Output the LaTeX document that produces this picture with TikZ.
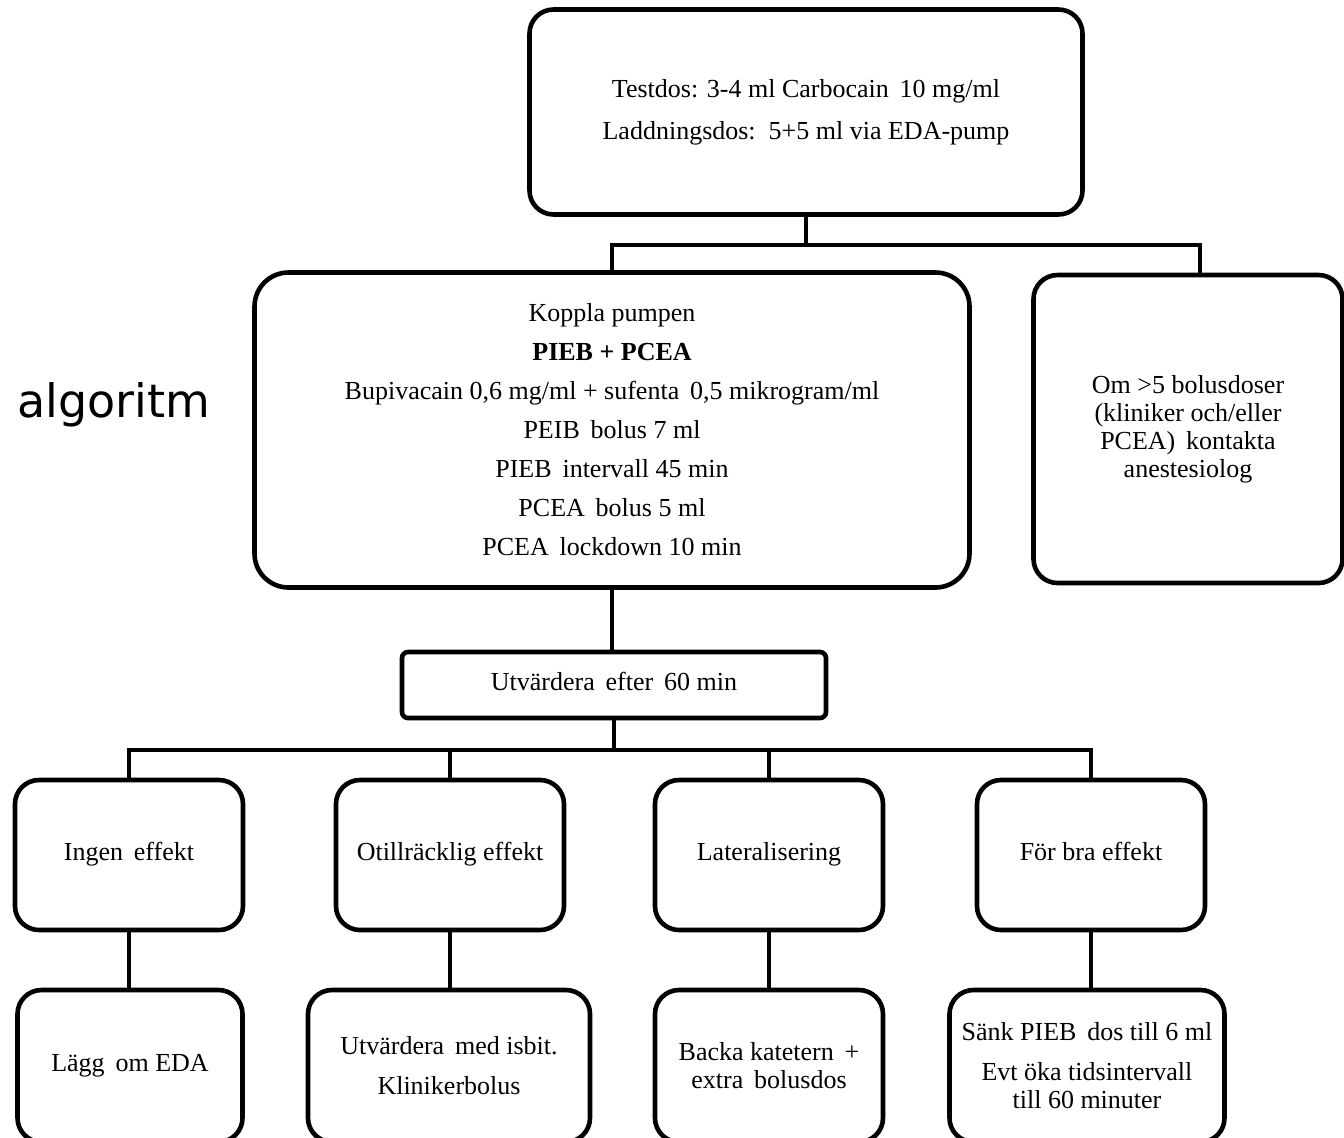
\documentclass[tikz,border=0pt]{standalone}
\usepackage{fontspec}
\setmainfont{Liberation Serif}
\newfontfamily\algfont{DejaVu Sans}
\usetikzlibrary{positioning}

\begin{document}
\begin{tikzpicture}[
    x=0.5pt, y=0.5pt,          % 1 unit = 1 px of the layout
    font=\fontsize{13}{14}\selectfont,
    box/.style={draw, rectangle, rounded corners=12pt, line width=2.3pt,
                align=center, inner sep=2pt, fill=white},
    small/.style={box, rounded corners=3pt},
    link/.style={line width=2pt}
  ]
  \clip (0,0) rectangle (1344,-1137);

  % --- BOXES ---
  \node[box, minimum width=276.5pt, minimum height=102.5pt] (testdos) at (806,-112)
    {Testdos: 3-4 ml Carbocain\, 10 mg/ml\\[7pt] Laddningsdos:\, 5+5 ml via EDA-pump};

  \node[box, rounded corners=17pt, minimum width=357.5pt, minimum height=157.5pt] (koppla) at (612,-430)
    {Koppla pumpen\\[5.5pt] \textbf{PIEB + PCEA}\\[5.5pt]
     Bupivacain 0,6 mg/ml + sufenta\, 0,5 mikrogram/ml\\[5.5pt]
     PEIB\, bolus 7 ml\\[5.5pt] PIEB\, intervall 45 min\\[5.5pt]
     PCEA\, bolus 5 ml\\[5.5pt] PCEA\, lockdown 10 min};

  \node[box, minimum width=154.5pt, minimum height=154pt] (kontakt) at (1188,-429)
    {Om >5 bolusdoser\\ (kliniker och/eller\\ PCEA)\, kontakta\\ anestesiolog};

  \node[small, minimum width=212pt, minimum height=33pt] (utv) at (614,-685)
    {\strut Utvärdera\, efter\, 60 min};

  % row 3
  \node[box, minimum width=114pt, minimum height=75pt] (ingen)  at (129,-855)  {\strut Ingen\, effekt};
  \node[box, minimum width=114pt, minimum height=75pt] (otill)  at (450,-855)  {\strut Otillräcklig effekt};
  \node[box, minimum width=114pt, minimum height=75pt] (lat)    at (769,-855)  {\strut Lateralisering};
  \node[box, minimum width=114pt, minimum height=75pt] (forbra) at (1091,-855) {\strut För bra effekt};

  % row 4
  \node[box, minimum width=112.5pt, minimum height=76pt] (lagg)  at (130,-1066)  {\strut Lägg\, om EDA};
  \node[box, minimum width=141pt,   minimum height=76pt] (isbit) at (449,-1066)
    {Utvärdera\, med isbit.\\[6pt] Klinikerbolus};
  \node[box, minimum width=114pt,   minimum height=76pt] (backa) at (769,-1066)
    {Backa katetern\, +\\ extra\, bolusdos};
  \node[box, minimum width=137.5pt, minimum height=76pt] (sank)  at (1087,-1066)
    {Sänk PIEB\, dos till 6 ml\\[6pt] Evt öka tidsintervall\\ till 60 minuter};

  \node[font=\algfont\fontsize{23}{26}\selectfont, anchor=west] (alg) at (10,-405) {algoritm};

  % --- CONNECTORS ---
  \coordinate (split1) at (806,-245);
  \coordinate (split2) at (614,-750);

  \draw[link] (testdos.south) -- (split1);
  \draw[link] (koppla.north) |- ([xshift=6pt]kontakt.north |- split1) -- ([xshift=6pt]kontakt.north);
  \draw[link] (koppla.south) -- (koppla.south |- utv.north);

  \draw[link] (utv.south) -- (split2);
  \draw[link] (ingen.north) |- (forbra.north |- split2) -- (forbra.north);
  \foreach \n in {otill, lat}
    \draw[link] (\n.north) -- (\n.north |- split2);

  \foreach \a/\b in {ingen/lagg, otill/isbit, lat/backa, forbra/sank}
    \draw[link] (\a.south) -- (\a.south |- \b.north);

\end{tikzpicture}
\end{document}
